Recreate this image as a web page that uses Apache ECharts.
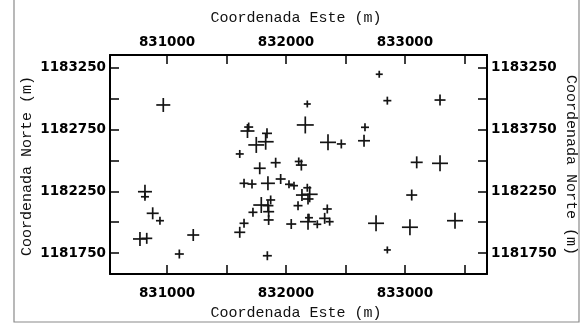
<!DOCTYPE html>
<html>
<head>
<meta charset="utf-8">
<script src="https://cdn.jsdelivr.net/npm/echarts@6/dist/echarts.min.js"></script>
<style>
  html, body { margin: 0; padding: 0; background: #fff; }
  #chart { width: 582px; height: 324px; }
</style>
</head>
<body>
<div id="chart"></div>
<script>
// Sample locations (UTM, metres) and the measured value at each one
const este = [
  830968, 831686, 831676, 831840, 831750, 831829, 832162, 832353, 832465, 831611,
  831779, 831913, 832107, 832129, 832784, 832179, 832852, 833295, 832664, 832656,
  833099, 833295, 830814, 830814, 830879, 830940, 830772, 830829, 831220, 831103,
  831647, 831714, 831848, 831955, 832025, 832067, 832179, 832134, 832199, 832185,
  832101, 831871, 831792, 831848, 831854, 831722, 831854, 831647, 831611, 832044,
  832185, 832193, 832263, 832325, 832347, 832367, 831843, 833057, 832757, 833042,
  833421, 832852
];
const norte = [
  1182950, 1182771, 1182739, 1182720, 1182626, 1182652, 1182788, 1182647, 1182634, 1182553,
  1182437, 1182482, 1182492, 1182463, 1183199, 1182958, 1182985, 1182990, 1182769, 1182660,
  1182485, 1182477, 1182247, 1182206, 1182072, 1182012, 1181864, 1181869, 1181896, 1181742,
  1182315, 1182309, 1182315, 1182350, 1182307, 1182296, 1182279, 1182220, 1182226, 1182188,
  1182134, 1182180, 1182139, 1182134, 1182085, 1182080, 1182018, 1181991, 1181918, 1181985,
  1182004, 1182036, 1181983, 1182031, 1182107, 1182004, 1181728, 1182220, 1181991, 1181959,
  1182012, 1181775
];
const valor = [
  1.4, 0.9, 1.4, 1.0, 1.6, 1.6, 1.7, 1.6, 0.9, 0.8,
  1.2, 1.0, 0.8, 1.1, 0.7, 0.7, 0.8, 1.1, 0.8, 1.2,
  1.2, 1.6, 1.4, 0.8, 1.2, 0.8, 1.4, 1.1, 1.2, 0.9,
  0.9, 0.9, 1.4, 1.0, 0.8, 0.8, 0.8, 1.2, 1.6, 1.1,
  0.9, 0.9, 1.6, 1.1, 1.1, 0.9, 1.0, 0.9, 1.1, 1.0,
  1.6, 0.8, 0.8, 1.1, 0.9, 0.8, 0.9, 1.1, 1.6, 1.6,
  1.6, 0.7
];

// Axis ticks and labels
const ticksEste = [831000, 831500, 832000, 832500, 833000, 833500];
const etiquetasEste = [831000, 832000, 833000];
const ticksNorte = [1181750, 1182000, 1182250, 1182500, 1182750, 1183000, 1183250];
const etiquetasNorte = [1181750, 1182250, 1182750, 1183250];
const textosNorteDerecha = ['1181750', '1182250', '1183750', '1183250'];

const puntos = este.map((x, i) => [x, norte[i], valor[i]]);

const fuenteEje = { fontFamily: 'DejaVu Sans', fontWeight: 'bold', fontSize: 13.5, color: '#000' };
const fuenteTitulo = { fontFamily: 'Liberation Mono', fontSize: 15, fill: '#111' };

function ejeX(pos, margen) {
  return {
    type: 'value', position: pos, min: 830520, max: 833690,
    axisLine: { show: true, onZero: false, lineStyle: { color: '#000', width: 2 } },
    axisTick: { show: true, inside: true, length: 9, customValues: ticksEste, lineStyle: { color: '#000', width: 1.5 } },
    axisLabel: Object.assign({ customValues: etiquetasEste, margin: margen, formatter: v => String(v) }, fuenteEje),
    splitLine: { show: false }
  };
}
function ejeY(pos, fmt) {
  return {
    type: 'value', position: pos, min: 1181580, max: 1183355,
    axisLine: { show: true, onZero: false, lineStyle: { color: '#000', width: 2 } },
    axisTick: { show: true, inside: true, length: 9, customValues: ticksNorte, lineStyle: { color: '#000', width: 1.5 } },
    axisLabel: Object.assign({ customValues: etiquetasNorte, margin: 4, formatter: fmt }, fuenteEje),
    splitLine: { show: false }
  };
}

const chart = echarts.init(document.getElementById('chart'), null, { renderer: 'canvas' });
chart.setOption({
  animation: false,
  backgroundColor: '#fff',
  grid: { left: 110, top: 55, width: 377, height: 219, containLabel: false },
  xAxis: [ejeX('bottom', 12), ejeX('top', 6)],
  yAxis: [
    ejeY('left', v => String(v)),
    ejeY('right', v => textosNorteDerecha[etiquetasNorte.indexOf(v)])
  ],
  graphic: [
    { type: 'rect', shape: { x: 14, y: -4, width: 565, height: 326 }, style: { fill: 'none', stroke: '#8a8a8a', lineWidth: 1.2 }, silent: true },
    { type: 'text', x: 296, y: 18, style: Object.assign({ text: 'Coordenada Este (m)', align: 'center', verticalAlign: 'middle' }, fuenteTitulo) },
    { type: 'text', x: 296, y: 313, style: Object.assign({ text: 'Coordenada Este (m)', align: 'center', verticalAlign: 'middle' }, fuenteTitulo) },
    { type: 'text', x: 27, y: 166, rotation: Math.PI / 2, style: Object.assign({ text: 'Coordenada Norte (m)', align: 'center', verticalAlign: 'middle' }, fuenteTitulo) },
    { type: 'text', x: 571, y: 165, rotation: -Math.PI / 2, style: Object.assign({ text: 'Coordenada Norte (m)', align: 'center', verticalAlign: 'middle' }, fuenteTitulo) }
  ],
  series: [{
    type: 'custom',
    xAxisIndex: 0, yAxisIndex: 0,
    data: puntos,
    renderItem: function (params, api) {
      const p = api.coord([api.value(0), api.value(1)]);
      const h = api.value(2) * 10 / 2;
      const st = { stroke: '#141414', lineWidth: 1.7 };
      return {
        type: 'group',
        children: [
          { type: 'line', shape: { x1: p[0] - h, y1: p[1], x2: p[0] + h, y2: p[1] }, style: st },
          { type: 'line', shape: { x1: p[0], y1: p[1] - h, x2: p[0], y2: p[1] + h }, style: st }
        ]
      };
    }
  }]
});
</script>
</body>
</html>
